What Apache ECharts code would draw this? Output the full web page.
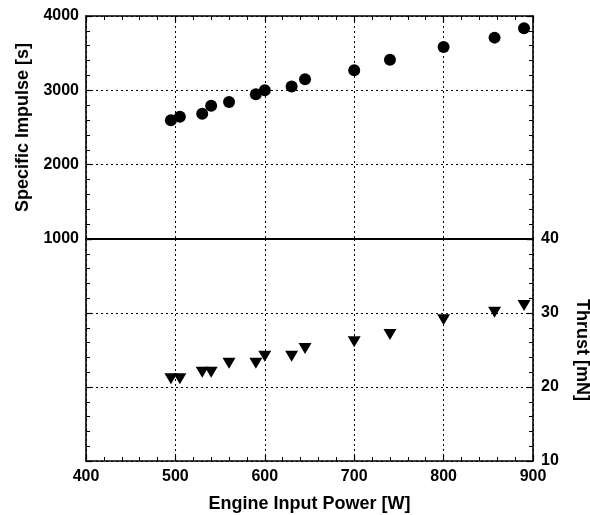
<!DOCTYPE html>
<html><head><meta charset="utf-8">
<script src="https://cdn.jsdelivr.net/npm/echarts@6/dist/echarts.min.js"></script>
<style>html,body{margin:0;padding:0;background:#fff}#c{width:590px;height:515px}</style>
</head><body><div id="c"></div>
<script>
const power = [495, 505, 530, 540, 560, 590, 600, 630, 645, 700, 740, 800, 857, 890];
const isp = [2596, 2646, 2686, 2794, 2843, 2946, 3000, 3050, 3148, 3269, 3413, 3583, 3709, 3834];
const thrust = [21.1, 21.1, 22.0, 22.0, 23.2, 23.2, 24.15, 24.15, 25.2, 26.1, 27.1, 29.1, 30.1, 31.0];
const xTitle = 'Engine Input Power [W]';
const ispTitle = 'Specific Impulse [s]';
const thrustTitle = 'Thrust [mN]';

const FONT = '"Liberation Sans", Arial, sans-serif';
const lbl = {fontFamily: FONT, fontWeight: 'bold', fontSize: 16, color: '#000', formatter: v => String(v)};
const nameStyle = {fontFamily: FONT, fontWeight: 'bold', fontSize: 18, color: '#000'};
const line = {show: true, lineStyle: {color: '#000', width: 1.6}};
const tick = {show: true, inside: true, length: 6, lineStyle: {color: '#000', width: 1.2}};
const minor = {show: true, splitNumber: 5, length: 4, lineStyle: {color: '#000', width: 1}};
const dotted = {show: true, lineStyle: {color: '#000', type: [2, 3], width: 1}};

const chart = echarts.init(document.getElementById('c'), null, {renderer: 'canvas'});
chart.setOption({
  animation: false,
  backgroundColor: '#fff',
  grid: [
    {left: 86, top: 16, width: 447, height: 223, containLabel: false, outerBoundsMode: 'none'},
    {left: 86, top: 239, width: 447, height: 222, containLabel: false, outerBoundsMode: 'none'}
  ],
  xAxis: [
    {gridIndex: 0, type: 'value', position: 'top', min: 400, max: 900, interval: 100,
     axisLine: line, axisTick: tick, minorTick: minor, axisLabel: {show: false},
     splitLine: dotted},
    {gridIndex: 1, type: 'value', position: 'bottom', min: 400, max: 900, interval: 100,
     axisLine: line, axisTick: tick, minorTick: minor,
     axisLabel: Object.assign({margin: 8}, lbl),
     splitLine: dotted,
     name: xTitle, nameLocation: 'middle', nameGap: 34, nameTextStyle: nameStyle},
    {gridIndex: 1, type: 'value', position: 'top', min: 400, max: 900, interval: 100,
     axisLine: {show: true, lineStyle: {color: '#000', width: 2}}, axisTick: {show: false},
     axisLabel: {show: false}, splitLine: {show: false}}
  ],
  yAxis: [
    {gridIndex: 0, type: 'value', position: 'left', min: 1000, max: 4000, interval: 1000,
     axisLine: line, axisTick: tick, minorTick: minor,
     axisLabel: Object.assign({margin: 7}, lbl),
     splitLine: dotted,
     name: ispTitle, nameLocation: 'middle', nameGap: 52, nameRotate: 90, nameTextStyle: nameStyle},
    {gridIndex: 0, type: 'value', position: 'right', min: 1000, max: 4000, interval: 1000,
     axisLine: line, axisTick: tick, minorTick: minor, axisLabel: {show: false},
     splitLine: {show: false}},
    {gridIndex: 1, type: 'value', position: 'left', min: 10, max: 40, interval: 10,
     axisLine: line, axisTick: tick, minorTick: minor, axisLabel: {show: false},
     splitLine: dotted},
    {gridIndex: 1, type: 'value', position: 'right', min: 10, max: 40, interval: 10,
     axisLine: line, axisTick: tick, minorTick: minor,
     axisLabel: Object.assign({margin: 8}, lbl),
     splitLine: {show: false},
     name: thrustTitle, nameLocation: 'middle', nameGap: 40, nameRotate: -90, nameTextStyle: nameStyle}
  ],
  series: [
    {type: 'scatter', xAxisIndex: 0, yAxisIndex: 0, symbol: 'circle', symbolSize: 12,
     itemStyle: {color: '#000', opacity: 1}, data: power.map((p, i) => [p, isp[i]])},
    {type: 'scatter', xAxisIndex: 1, yAxisIndex: 2, symbol: 'triangle', symbolRotate: 180, symbolSize: [13, 11],
     itemStyle: {color: '#000', opacity: 1}, data: power.map((p, i) => [p, thrust[i]])}
  ]
});
</script></body></html>
